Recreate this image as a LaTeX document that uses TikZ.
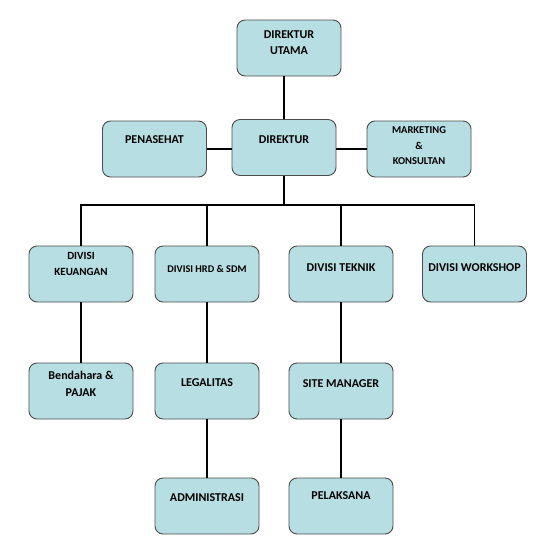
\documentclass[tikz,border=0pt]{standalone}
\usepackage{fontspec}
\setmainfont{Carlito}[BoldFont={Carlito Bold}]
\definecolor{boxfill}{RGB}{183,222,226}
\tikzset{
  box/.style={draw=black!70, line width=0.9pt, fill=boxfill, rounded corners=8pt,
    minimum width=104pt, minimum height=56pt, inner sep=0pt},
  lbl/.style={font=\bfseries\fontsize{12}{16.5}\selectfont, align=center, inner sep=0pt, text=black},
  lblsm/.style={font=\bfseries\fontsize{10.5}{15.5}\selectfont, align=center, inner sep=0pt, text=black},
  lblmd/.style={font=\bfseries\fontsize{11}{16}\selectfont, align=center, inner sep=0pt, text=black},
  lblxs/.style={font=\bfseries\fontsize{10.3}{14}\selectfont, align=center, inner sep=0pt, text=black},
  conn/.style={line width=1.6pt, black}
}
\begin{document}
\begin{tikzpicture}[x=1pt,y=1pt]
\useasboundingbox (0,0) rectangle (546,-550);
% boxes
\node[box] (du)   at (289,-48) {};
\node[box] (dir)  at (284,-147.5) {};
\node[box] (pen)  at (154.5,-149) {};
\node[box] (mk)   at (419,-149) {};
\node[box] (keu)  at (81,-274) {};
\node[box] (hrd)  at (207,-274) {};
\node[box] (tek)  at (341,-274) {};
\node[box] (ws)   at (474.5,-274) {};
\node[box] (ben)  at (81,-391) {};
\node[box] (leg)  at (207,-391) {};
\node[box] (site) at (341,-391) {};
\node[box] (adm)  at (207,-506) {};
\node[box] (pel)  at (341,-506) {};
% labels
\node[lbl]   (dut)   at (289,-42.5) {DIREKTUR\\UTAMA};
\node[lbl]   (dirt)  at (284,-140) {DIREKTUR};
\node[lbl]   (pent)  at (154.5,-140) {PENASEHAT};
\node[lblsm] (mkt)   at (419,-146) {MARKETING\\\&\\KONSULTAN};
\node[lblmd] (keut)  at (81,-264) {DIVISI\\KEUANGAN};
\node[lblxs] (hrdt)  at (207,-269) {DIVISI HRD \& SDM};
\node[lbl]   (tekt)  at (341,-268) {DIVISI TEKNIK};
\node[lbl]   (wst)   at (474.5,-268) {DIVISI WORKSHOP};
\node[lbl]   (bent)  at (81,-384) {Bendahara \&\\PAJAK};
\node[lbl]   (legt)  at (207,-383) {LEGALITAS};
\node[lbl]   (sitet) at (341,-384) {SITE MANAGER};
\node[lbl]   (admt)  at (207,-498) {ADMINISTRASI};
\node[lbl]   (pelt)  at (341,-496) {PELAKSANA};
% connectors
\coordinate (bus) at (284,-205);
\draw[conn] (du.south -| dir.north) -- (dir.north);
\draw[conn] (pen.east) -- (pen.east -| dir.west);
\draw[conn] (dir.east |- mk.west) -- (mk.west);
\draw[conn] (dir.south) -- (bus);
\draw[conn] (keu.north) -- (keu.north |- bus) -- (ws.north |- bus) -- (ws.north);
\draw[conn] (hrd.north) -- (hrd.north |- bus);
\draw[conn] (tek.north) -- (tek.north |- bus);
\draw[conn] (keu.south) -- (ben.north);
\draw[conn] (hrd.south) -- (leg.north);
\draw[conn] (leg.south) -- (adm.north);
\draw[conn] (tek.south) -- (site.north);
\draw[conn] (site.south) -- (pel.north);
\end{tikzpicture}
\end{document}
